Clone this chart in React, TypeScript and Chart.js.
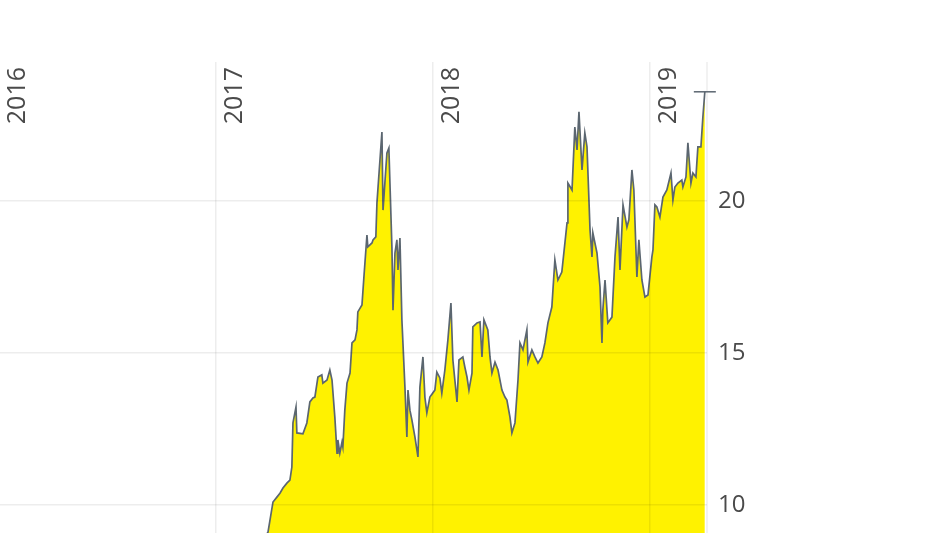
import React, { useRef, useEffect } from "react";
import { Chart, registerables } from "chart.js";

Chart.register(...registerables);

// time axis in decimal years, price values
const years = [
  2017.203, 2017.24, 2017.263, 2017.281, 2017.295, 2017.309, 2017.327, 2017.341, 2017.35, 2017.355,
  2017.369, 2017.373, 2017.401, 2017.419, 2017.433, 2017.447, 2017.456, 2017.47, 2017.488, 2017.493,
  2017.512, 2017.525, 2017.535, 2017.548, 2017.558, 2017.562, 2017.571, 2017.581, 2017.585, 2017.594,
  2017.604, 2017.618, 2017.627, 2017.641, 2017.65, 2017.654, 2017.673, 2017.682, 2017.696, 2017.7,
  2017.719, 2017.724, 2017.737, 2017.742, 2017.765, 2017.77, 2017.788, 2017.797, 2017.811, 2017.816,
  2017.825, 2017.834, 2017.839, 2017.848, 2017.857, 2017.871, 2017.88, 2017.885, 2017.894, 2017.903,
  2017.917, 2017.931, 2017.94, 2017.954, 2017.963, 2017.972, 2017.986, 2018.009, 2018.018, 2018.032,
  2018.041, 2018.055, 2018.069, 2018.083, 2018.092, 2018.111, 2018.12, 2018.138, 2018.147, 2018.157,
  2018.166, 2018.18, 2018.184, 2018.203, 2018.217, 2018.226, 2018.235, 2018.253, 2018.263, 2018.272,
  2018.286, 2018.3, 2018.318, 2018.332, 2018.341, 2018.355, 2018.364, 2018.378, 2018.392, 2018.401,
  2018.415, 2018.433, 2018.438, 2018.456, 2018.47, 2018.484, 2018.502, 2018.516, 2018.53, 2018.548,
  2018.562, 2018.576, 2018.594, 2018.618, 2018.622, 2018.641, 2018.654, 2018.664, 2018.673, 2018.687,
  2018.7, 2018.71, 2018.724, 2018.733, 2018.737, 2018.756, 2018.77, 2018.779, 2018.783, 2018.793,
  2018.806, 2018.825, 2018.839, 2018.853, 2018.862, 2018.876, 2018.894, 2018.903, 2018.917, 2018.926,
  2018.94, 2018.949, 2018.963, 2018.977, 2018.991, 2019.009, 2019.014, 2019.023, 2019.032, 2019.046,
  2019.06, 2019.078, 2019.097, 2019.106, 2019.115, 2019.129, 2019.147, 2019.152, 2019.166, 2019.175,
  2019.189, 2019.198, 2019.212, 2019.221, 2019.235, 2019.244, 2019.253,
];

const prices = [
  8.68, 9.11, 10.1, 10.26, 10.39, 10.56, 10.72, 10.82, 11.25, 12.7,
  13.22, 12.37, 12.34, 12.7, 13.39, 13.52, 13.55, 14.21, 14.28, 14.01,
  14.11, 14.44, 14.11, 12.89, 11.71, 12.14, 11.71, 12.07, 11.91, 13.12,
  14.01, 14.34, 15.33, 15.43, 15.76, 16.35, 16.58, 17.5, 18.88, 18.49,
  18.62, 18.72, 18.82, 19.93, 22.27, 19.7, 21.58, 21.74, 18.49, 16.41,
  18.29, 18.72, 17.73, 18.78, 16.09, 13.88, 12.24, 13.78, 13.12, 12.8,
  12.24, 11.58, 13.88, 14.87, 13.55, 13.03, 13.55, 13.78, 14.37, 14.18,
  13.68, 14.44, 15.43, 16.64, 14.77, 13.39, 14.77, 14.87, 14.54, 14.21,
  13.78, 14.34, 15.86, 15.99, 16.02, 14.87, 16.09, 15.76, 14.87, 14.34,
  14.7, 14.44, 13.78, 13.55, 13.45, 12.89, 12.37, 12.7, 14.11, 15.33,
  15.1, 15.76, 14.7, 15.1, 14.87, 14.67, 14.87, 15.33, 15.99, 16.51,
  18.06, 17.4, 17.66, 19.28, 20.59, 20.36, 22.43, 21.68, 22.93, 21.02,
  22.24, 21.78, 19.05, 18.16, 18.95, 18.29, 17.17, 15.33, 16.41, 17.4,
  15.99, 16.18, 18.16, 19.47, 17.73, 19.87, 19.14, 19.38, 21.02, 20.36,
  17.5, 18.72, 17.4, 16.84, 16.91, 18.16, 18.39, 19.87, 19.8, 19.47,
  20.13, 20.36, 20.92, 20.03, 20.46, 20.59, 20.69, 20.46, 20.79, 21.91,
  20.59, 20.92, 20.79, 21.78, 21.78, 22.76, 23.59,
];

const yearLabels = [2016, 2017, 2018, 2019];
const priceTicks = [10, 15, 20];

const textColor = "#4a4a4a";
const gridColor = "rgba(0,0,0,0.07)";
const lineColor = "#5b6670";
const fontFamily = "'Open Sans', sans-serif";

const xMin = 2016.005;
const xMax = 2019.263;

// year labels sit inside the plot, rotated, just right of each gridline
const yearLabelPlugin = {
  id: "yearLabels",
  beforeDatasetsDraw(chart: Chart) {
    // faint right edge of the plot area
    const { ctx, chartArea } = chart;
    ctx.save();
    ctx.strokeStyle = gridColor;
    ctx.lineWidth = 1.5;
    ctx.beginPath();
    ctx.moveTo(chartArea.right, chartArea.top);
    ctx.lineTo(chartArea.right, chartArea.bottom);
    ctx.stroke();
    ctx.restore();
  },
  afterDraw(chart: Chart) {
    const ctx = chart.ctx;
    const x = chart.scales.x;
    ctx.save();
    ctx.fillStyle = textColor;
    ctx.font = `25px ${fontFamily}`;
    ctx.textAlign = "right";
    ctx.textBaseline = "alphabetic";
    yearLabels.forEach((yr) => {
      const px = x.getPixelForValue(yr);
      ctx.save();
      ctx.translate(px + 26, 67);
      ctx.rotate(-Math.PI / 2);
      ctx.fillText(String(yr), 0, 0);
      ctx.restore();
    });
    ctx.restore();
  },
};

const noPadding = (s: any) => {
  s.paddingTop = 0;
  s.paddingBottom = 0;
  s.paddingLeft = 0;
  s.paddingRight = 0;
};

export default function App() {
  const canvasRef = useRef<HTMLCanvasElement>(null);

  useEffect(() => {
    const canvas = canvasRef.current;
    if (!canvas) return;
    const last = prices.length - 1;

    const chart = new Chart(canvas, {
      type: "line",
      data: {
        datasets: [
          {
            data: years.map((x, i) => ({ x, y: prices[i] })),
            borderColor: lineColor,
            borderWidth: 1.7,
            backgroundColor: "#fff200",
            fill: "start",
            tension: 0,
            clip: { left: 0, top: 10, right: 20, bottom: 0 },
            pointRadius: (c: any) => (c.dataIndex === last ? 11 : 0),
            pointStyle: "line",
            pointBorderColor: lineColor,
            pointBorderWidth: 1.5,
            pointHoverRadius: 0,
          },
        ],
      },
      options: {
        animation: false,
        responsive: false,
        events: [],
        layout: { autoPadding: false, padding: { top: 62, left: 0, right: 0, bottom: 0 } },
        plugins: { legend: { display: false }, tooltip: { enabled: false } },
        scales: {
          x: {
            type: "linear",
            position: "top",
            min: xMin,
            max: xMax,
            afterBuildTicks: (s: any) => {
              s.ticks = yearLabels.filter((v) => v > xMin && v < xMax).map((v) => ({ value: v }));
            },
            ticks: { display: false },
            grid: { color: gridColor, lineWidth: 1.5, drawTicks: false, z: 1 },
            border: { display: false },
            afterFit: (s: any) => {
              s.height = 0;
              noPadding(s);
            },
          },
          y: {
            position: "right",
            min: 9.08,
            max: 24.57,
            afterBuildTicks: (s: any) => {
              s.ticks = priceTicks.map((v) => ({ value: v }));
            },
            ticks: {
              color: textColor,
              font: { size: 24, family: fontFamily },
              padding: 11,
            },
            grid: { color: gridColor, lineWidth: 1.5, drawTicks: false, z: 1 },
            border: { display: false },
            afterFit: (s: any) => {
              s.width = 242;
              noPadding(s);
            },
          },
        },
      },
      plugins: [yearLabelPlugin],
    } as any);

    return () => {
      chart.destroy();
    };
  }, []);

  return (
    <div style={{ position: "fixed", left: 0, top: 0, width: 949, height: 533, background: "#fff" }}>
      <canvas ref={canvasRef} width={949} height={533} style={{ width: 949, height: 533 }} />
    </div>
  );
}
